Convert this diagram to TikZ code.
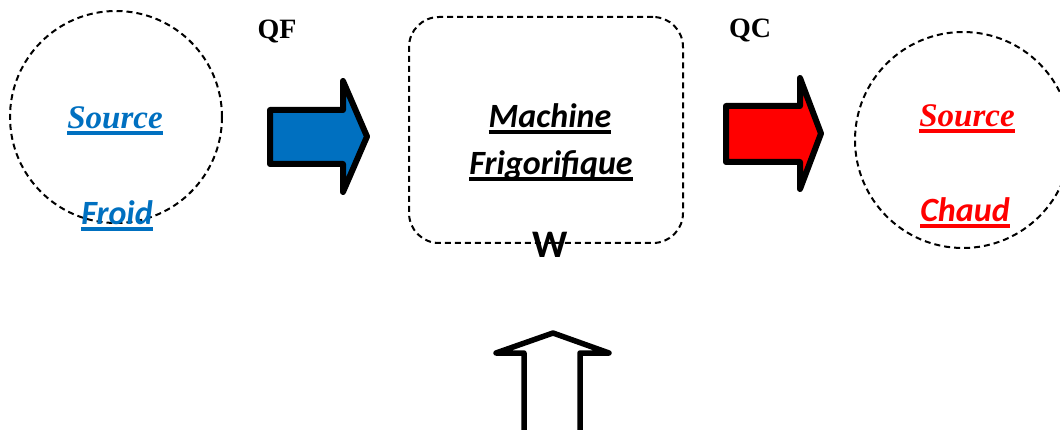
\documentclass[tikz,border=0pt]{standalone}
\usepackage{fontspec}
\setmainfont{Liberation Serif}
\newfontfamily\calib{Carlito}
\definecolor{myblue}{HTML}{0070C0}
\definecolor{myred}{HTML}{FF0000}
\newcommand\ulx[1]{\setbox0\hbox{#1}\rlap{\rule[-6pt]{\wd0}{3.5pt}}\box0}
\begin{document}
\begin{tikzpicture}[x=1pt,y=-1pt,
  dashsty/.style={draw=black, line width=2pt, dash pattern=on 6pt off 4pt},
  blockarrow/.style={draw=black, line width=6pt, line join=round},
  lbl/.style={inner sep=0pt, anchor=base},
  big/.style={font=\fontsize{33}{36}\selectfont\bfseries\itshape},
  bigcal/.style={font=\calib\fontsize{34}{38}\selectfont\bfseries\itshape},
  machcal/.style={font=\calib\fontsize{34}{38}\selectfont\bfseries\itshape},
  qlbl/.style={font=\fontsize{28}{30}\selectfont\bfseries}]
\useasboundingbox (0,0) rectangle (1060,430);
\clip (0,0) rectangle (1060,430);

% sources and machine
\node[circle, inner sep=0pt, minimum size=212pt, dashsty] (froid) at (116,117) {};
\node[circle, inner sep=0pt, minimum size=216pt, dashsty] (chaud) at (963,140) {};
\node[rectangle, rounded corners=30pt, inner sep=0pt, minimum width=274pt, minimum height=226pt, dashsty] (machine) at (546,130) {};

% texts
\node[lbl, big, text=myblue] (srcF) at (115,129) {\ulx{Source}};
\node[lbl, bigcal, text=myblue] (txtF) at (117,225) {\ulx{Froid}};
\node[lbl, big, text=myred] (srcC) at (967,127) {\ulx{Source}};
\node[lbl, bigcal, text=myred] (txtC) at (965,222) {\ulx{Chaud}};
\node[lbl, machcal] (mach1) at (550,128) {\ulx{Machine}};
\node[lbl, machcal] (mach2) at (551,175) {\ulx{Frigorifique}};
\node[lbl, font=\calib\fontsize{39}{44}\selectfont\bfseries] (w) at (550,258) {W};
\node[lbl, qlbl] (qf) at (277,39) {QF};
\node[lbl, qlbl] (qc) at (750,38) {QC};

% block arrows
\draw[blockarrow, fill=myblue] (270,110) -- (343,110) -- (343,81) -- (367,136.5) -- (343,192) -- (343,164) -- (270,164) -- cycle;
\draw[blockarrow, fill=myred] (726,106) -- (800,106) -- (800,78) -- (821,133.5) -- (800,189) -- (800,162) -- (726,162) -- cycle;
\draw[draw=black, fill=white, line width=5.5pt, line join=round] (524,433) -- (524,353) -- (496,353) -- (553,333) -- (609,353) -- (580,353) -- (580,433) -- cycle;
\end{tikzpicture}
\end{document}
